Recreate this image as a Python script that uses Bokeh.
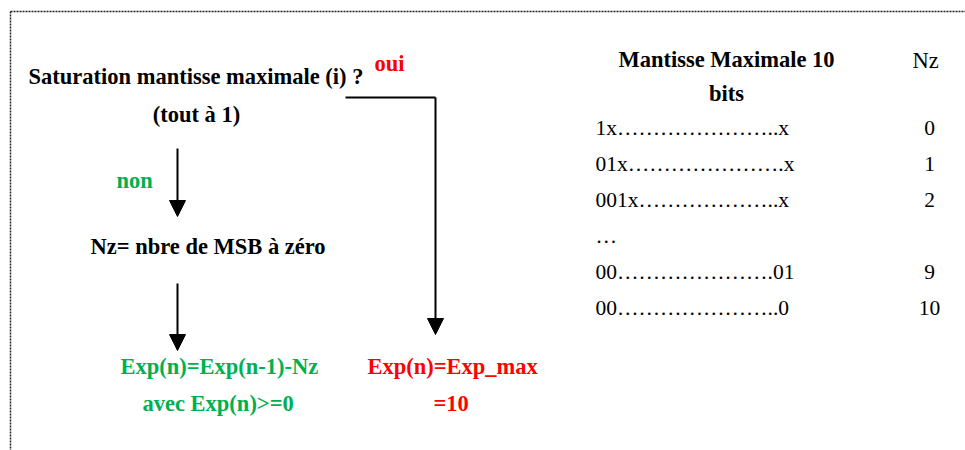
from bokeh.plotting import figure
from bokeh.models import Range1d, Arrow, NormalHead
from bokeh.core.properties import value
from bokeh.embed import file_html
from bokeh.resources import INLINE

# ---- diagram content ----
flow_labels = ["Saturation mantisse maximale (i) ?", "(tout à 1)",
               "Nz= nbre de MSB à zéro"]
yes_label = "oui"
no_label = "non"
green_labels = ["Exp(n)=Exp(n-1)-Nz", "avec Exp(n)>=0"]
red_labels = ["Exp(n)=Exp_max", "=10"]
table_header = ["Mantisse Maximale 10", "bits"]
nz_header = "Nz"
mantissas = ["1x" + "…" * 7 + "..x", "01x" + "…" * 7 + ".x",
             "001x" + "…" * 6 + "..x", "…", "00" + "…" * 7 + ".01",
             "00" + "…" * 7 + "..0"]
nz_values = ["0", "1", "2", "", "9", "10"]

GREEN = "#00B050"
RED = "#FF0000"
FONT = value("Liberation Serif")

W, H = 965, 450
p = figure(width=W, height=H, output_backend="svg", toolbar_location=None,
           x_range=Range1d(0, W), y_range=Range1d(H, 0),
           min_border=0, outline_line_color=None)
p.axis.visible = False
p.grid.visible = False
p.background_fill_color = "white"
p.border_fill_color = "white"

# dotted frame
p.line([10, W], [11, 11], line_color="#222222", line_width=1.5, line_dash="2 1")
p.line([10, 10], [11, H], line_color="#222222", line_width=1.5, line_dash="2 1")


def txt(xs, ys, texts, color="black", bold=True, size="22.5px", align="left"):
    p.text(x=xs, y=ys, text=texts, text_font=FONT, text_font_size=size,
           text_font_style="bold" if bold else "normal", text_color=color,
           text_align=align, text_baseline="middle")


# left flow texts
txt([28], [76], [flow_labels[0]])
txt([196], [114], [flow_labels[1]], align="center")
txt([90], [246], [flow_labels[2]])
txt([374], [63], [yes_label], color=RED)
txt([116], [180], [no_label], color=GREEN)
txt([120, 142], [366, 403], green_labels, color=GREEN)
txt([367, 433], [366, 403], red_labels, color=RED)

# right table
txt([726, 726], [59, 93], table_header, align="center")
txt([912], [60], [nz_header], bold=False)
row_y = [127, 163, 199, 235, 271, 307]
txt([595] * len(mantissas), row_y, mantissas, bold=False, size="21.5px")
txt([929] * len(nz_values), row_y, nz_values, bold=False, size="21.5px", align="center")

# connector lines and arrows
p.line([345, 435], [97, 97], line_color="black", line_width=2)
for (x0, y0, x1, y1) in [(177, 148, 177, 216), (177, 283, 177, 350), (435, 97, 435, 334)]:
    p.add_layout(Arrow(end=NormalHead(size=16, fill_color="black", line_color="black"),
                       x_start=x0, y_start=y0, x_end=x1, y_end=y1,
                       line_color="black", line_width=2))

open("out.html", "w").write(file_html(p, INLINE))
